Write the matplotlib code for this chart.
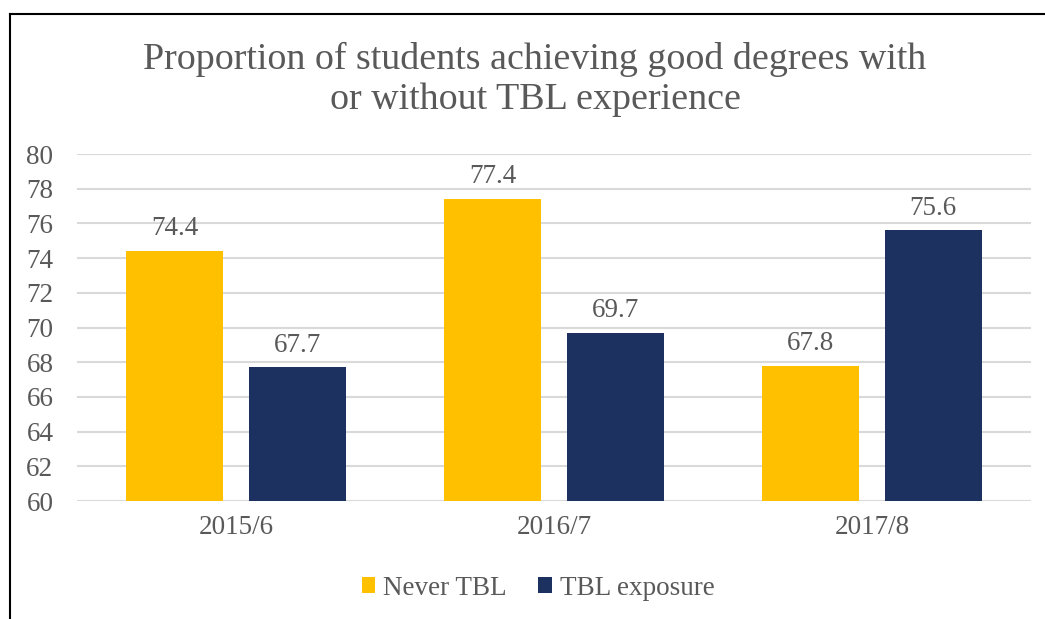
import matplotlib
matplotlib.use("Agg")
import matplotlib.pyplot as plt
import numpy as np
from matplotlib.lines import Line2D
from matplotlib.patches import Patch

categories = ["2015/6", "2016/7", "2017/8"]
never_tbl = [74.4, 77.4, 67.8]
tbl_exposure = [67.7, 69.7, 75.6]
series_names = ["Never TBL", "TBL exposure"]
title = "Proportion of students achieving good degrees with\nor without TBL experience"

plt.rcParams['font.family'] = ['Liberation Serif', 'DejaVu Serif']
grey = "#595959"
c_yellow = "#FFC000"
c_navy = "#1C3160"
fs = 19.5

fig = plt.figure(figsize=(10.45, 6.19), dpi=100)
ax = fig.add_axes([0.0737, 0.1906, 0.9129, 0.5606])

x = np.arange(len(categories))
w = 0.305
off = 0.193
b1 = ax.bar(x - off, [v - 60 for v in never_tbl], w, bottom=60, color=c_yellow, zorder=3)
b2 = ax.bar(x + off, [v - 60 for v in tbl_exposure], w, bottom=60, color=c_navy, zorder=3)

for bars, vals in ((b1, never_tbl), (b2, tbl_exposure)):
    for r, v in zip(bars, vals):
        ax.annotate(f"{v:.1f}", (r.get_x() + r.get_width() / 2, v), xytext=(0, 7),
                    textcoords="offset points", ha="center", va="bottom",
                    fontsize=fs, color=grey)

ax.set_xlim(-0.5, 2.5)
ax.set_ylim(60, 80)
ax.set_yticks(range(60, 81, 2))
ax.set_xticks(x)
ax.set_xticklabels(categories)
ax.tick_params(axis="both", length=0, labelsize=fs, colors=grey)
ax.tick_params(axis="x", pad=10)
ax.tick_params(axis="y", pad=17)
ax.grid(axis="y", color="#D9D9D9", linewidth=1.5, zorder=0)
for s in ax.spines.values():
    s.set_visible(False)

fig.text(0.512, 0.872, title, ha="center", va="center", fontsize=27.4,
         color=grey, linespacing=1.2)

handles = [Patch(facecolor=c_yellow), Patch(facecolor=c_navy)]
fig.legend(handles, series_names, loc="center", bbox_to_anchor=(0.515, 0.05),
           ncol=2, frameon=False, fontsize=fs, labelcolor=grey,
           handlelength=0.5, handleheight=0.5, handletextpad=0.3, columnspacing=1.15)

fig.add_artist(Line2D([9.5 / 1045, 1.0], [1 - 13.5 / 619, 1 - 13.5 / 619], color="black", linewidth=1.5))
fig.add_artist(Line2D([9.5 / 1045, 9.5 / 1045], [0, 1 - 13.5 / 619], color="black", linewidth=1.5))

fig.savefig("out.png", dpi=100)
